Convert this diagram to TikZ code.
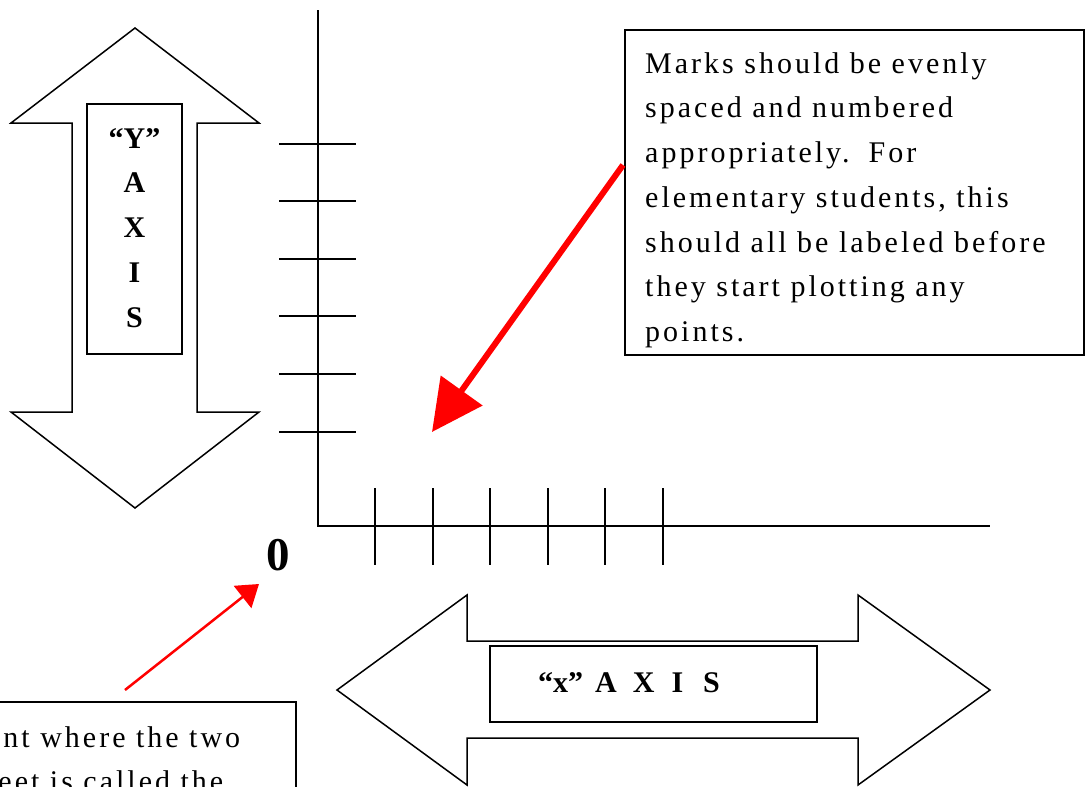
\documentclass[tikz,border=0pt]{standalone}
\usepackage{fontspec}
\setmainfont{Liberation Serif}
\newfontfamily\notefont{Liberation Serif}[LetterSpace=10]
\usetikzlibrary{arrows.meta,calc}
\newlength\lineone

\begin{document}
\settowidth\lineone{\notefont\fontsize{30}{44.8}\selectfont The point where the two}
\begin{tikzpicture}[x=1pt,y=-1pt,
    thinline/.style={line width=1.5pt, black},
    shapeline/.style={line width=1.5pt, line join=miter, black},
    labelbox/.style={draw, line width=1.6pt, inner sep=0pt},
    notefonts/.style={font=\notefont\fontsize{30}{44.8}\selectfont},
    axisletters/.style={font=\fontsize{30}{44.8}\selectfont\bfseries},
    redthick/.style={draw=red, line width=6pt, -{Triangle[length=51pt,width=50pt]}},
    redthin/.style={draw=red, line width=2.5pt, -{Triangle[length=21pt,width=28pt]}}]
  \useasboundingbox (0,0) rectangle (1085,787);
  \clip (0,0) rectangle (1085,787);

  % vertical double arrow with its label
  \draw[shapeline] (135,28) -- (259,123) -- (197,123) -- (197,412) -- (259,412)
    -- (135,508) -- (11,412) -- (72,412) -- (72,123) -- (11,123) -- cycle;
  \node[labelbox, minimum width=95pt, minimum height=250pt] (ybox) at (134.5,229) {};
  \node[axisletters, anchor=base, inner sep=0pt] (ytext) at (134.5,148)
    {\begin{tabular}[t]{@{}c@{}}“Y”\\A\\X\\I\\S\end{tabular}};

  % horizontal double arrow with its label
  \draw[shapeline] (337,690) -- (467,595) -- (467,641) -- (858,641) -- (858,595)
    -- (990,690) -- (858,785) -- (858,738) -- (467,738) -- (467,785) -- cycle;
  \node[labelbox, minimum width=327pt, minimum height=76pt] (xbox) at (653.5,684) {};
  \node[axisletters, anchor=base west, inner sep=0pt] (xtext) at (538,692)
    {“x”\hspace{12pt}A\hspace{16pt}X\hspace{17pt}I\hspace{20pt}S};

  % axes and tick marks
  \coordinate (ytop) at (318,10);
  \coordinate (O) at (318,526);
  \coordinate (xend) at (990,526);
  \draw[thinline] (ytop) -- (O) -- (xend);
  \foreach \y in {144,201,259,316,374,432}
    \draw[thinline] (279,\y) -- (356,\y);
  \foreach \x in {375,433,490,548,605,663}
    \draw[thinline] (\x,488) -- (\x,565);
  \node[font=\fontsize{47}{50}\selectfont\bfseries, anchor=base, inner sep=0pt] (zero) at (278,570) {0};

  % note about the tick marks
  \node[labelbox, anchor=north west, minimum width=459pt, minimum height=325pt] (notebox) at (624,29) {};
  \node[notefonts, anchor=base west, inner sep=0pt] (notetext) at (645,73)
    {\begin{tabular}[t]{@{}l@{}}Marks should be evenly\\
      spaced and numbered\\
      appropriately.\hspace{5pt} For\\
      elementary students, this\\
      should all be labeled before\\
      they start plotting any\\
      points.\end{tabular}};
  \coordinate (markstart) at (623,165);
  \coordinate (marktip) at (432,432);
  \draw[redthick] (markstart) -- (marktip);

  % note about the origin
  \node[labelbox, anchor=north east, minimum width=600pt, minimum height=200pt] (originbox) at (297,701) {};
  \node[notefonts, anchor=base west, inner sep=0pt] (origintext) at ($(240,747)+(-\lineone,0pt)$)
    {\begin{tabular}[t]{@{}l@{}}The point where the two\\
      lines meet is called the\\
      origin.\end{tabular}};
  \coordinate (originstart) at (125,690);
  \coordinate (origintip) at (259,584);
  \draw[redthin] (originstart) -- (origintip);
\end{tikzpicture}
\end{document}
